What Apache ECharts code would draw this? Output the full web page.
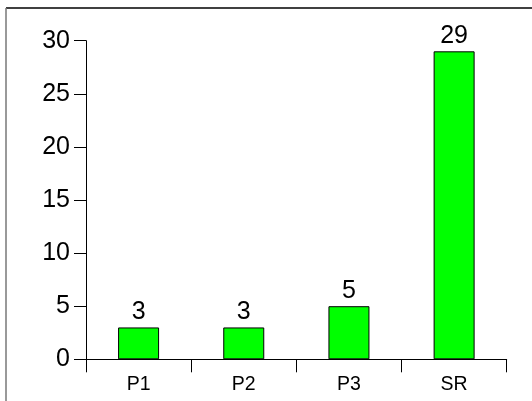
<!DOCTYPE html>
<html>
<head>
<meta charset="utf-8">
<script src="https://cdn.jsdelivr.net/npm/echarts@6/dist/echarts.min.js"></script>
<style>
  html, body { margin: 0; padding: 0; background: #fff; }
  #chart { width: 532px; height: 401px; }
</style>
</head>
<body>
<div id="chart"></div>
<script>
// 数据
const categories = ['P1', 'P2', 'P3', 'SR']
const counts = [3, 3, 5, 29]
const yTicks = [0, 5, 10, 15, 20, 25, 30]

const chart = echarts.init(document.getElementById('chart'))

const font = 'Liberation Sans, Arial, sans-serif'

const option = {
  animation: false,
  backgroundColor: '#fff',
  // 外框（只看到上边和左边）
  graphic: [
    { type: 'line', shape: { x1: 6, y1: 8, x2: 532, y2: 8 }, style: { stroke: '#000', lineWidth: 1.5 } },
    { type: 'line', shape: { x1: 6, y1: 8, x2: 6, y2: 401 }, style: { stroke: '#777', lineWidth: 1.5 } }
  ],
  grid: {
    left: 86,
    right: 25.3,
    top: 40.7,
    bottom: 41.7
  },
  xAxis: {
    type: 'category',
    data: categories,
    axisLine: { lineStyle: { color: '#000', width: 1 } },
    axisTick: { show: true, length: 13, lineStyle: { color: '#000' } },
    axisLabel: { color: '#000', fontSize: 19.5, fontFamily: font, margin: 15 }
  },
  yAxis: {
    type: 'value',
    min: yTicks[0],
    max: yTicks[yTicks.length - 1],
    interval: 5,
    splitLine: { show: false },
    axisLine: { show: true, lineStyle: { color: '#000', width: 1 } },
    axisTick: { show: true, length: 12, lineStyle: { color: '#000' } },
    axisLabel: { color: '#000', fontSize: 25, fontFamily: font, margin: 16 }
  },
  series: [
    {
      type: 'bar',
      data: counts,
      barWidth: 41,
      itemStyle: {
        color: '#00ff00',
        borderColor: '#000',
        borderWidth: 1
      },
      label: {
        show: true,
        position: 'top',
        distance: 3,
        color: '#000',
        fontSize: 25,
        fontFamily: font
      }
    }
  ]
}

chart.setOption(option)
</script>
</body>
</html>
